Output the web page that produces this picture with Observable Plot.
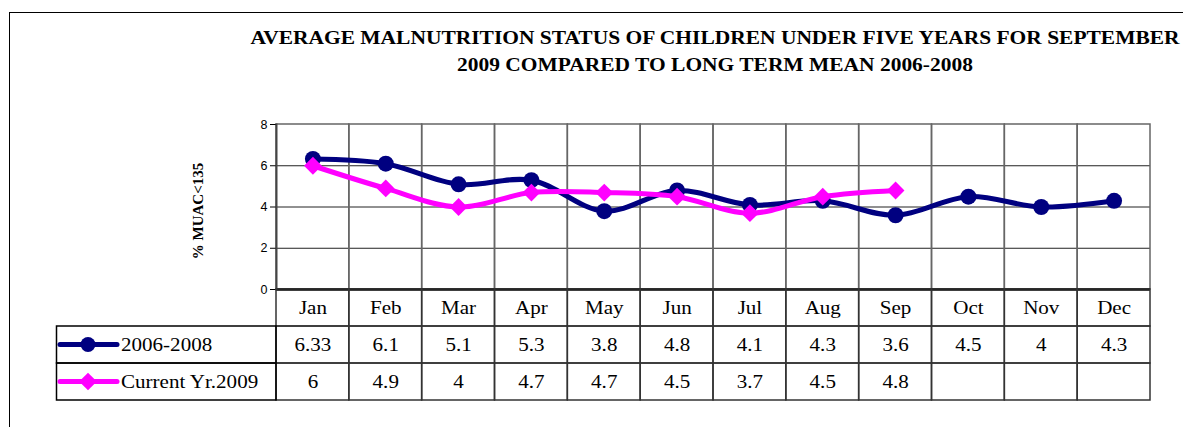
<!DOCTYPE html>
<html><head><meta charset="utf-8">
<script src="https://cdn.jsdelivr.net/npm/d3@7"></script>
<script src="https://cdn.jsdelivr.net/npm/@observablehq/plot@0.6"></script>
<style>
html,body{margin:0;padding:0;background:#fff;}
#wrap{position:relative;width:1183px;height:427px;overflow:hidden;background:#fff;}
#wrap svg{position:absolute;left:0;top:0;}
#border{position:absolute;left:9px;top:12px;width:1400px;height:600px;border-left:1.5px solid #000;border-top:1.5px solid #000;}
.title{position:absolute;left:0;width:1430px;text-align:center;font:bold 18.5px "Liberation Serif","Times New Roman",serif;line-height:27px;transform:scaleX(1.16);transform-origin:715px 0;white-space:nowrap;color:#000;}
</style></head><body>
<div id="wrap">
<div id="border"></div>
<div class="title" style="top:25px">AVERAGE MALNUTRITION STATUS OF CHILDREN UNDER FIVE YEARS FOR SEPTEMBER</div>
<div class="title" style="top:52px">2009 COMPARED TO LONG TERM MEAN 2006-2008</div>
</div>
<script>
const months = ["Jan","Feb","Mar","Apr","May","Jun","Jul","Aug","Sep","Oct","Nov","Dec"];
const mean0608 = [6.33,6.1,5.1,5.3,3.8,4.8,4.1,4.3,3.6,4.5,4,4.3];
const yr2009 = [6,4.9,4,4.7,4.7,4.5,3.7,4.5,4.8,null,null,null];
const seriesNames = ["2006-2008","Current Yr.2009"];
const seriesColors = ["#000080","#ff00ff"];
const yTicks = [0,2,4,6,8];
const yGrid = [2,4,6];
const yLabel = "% MUAC<135";

const s1 = months.map((m,i)=>({month:m, value:mean0608[i]}));
const s2 = months.map((m,i)=>({month:m, value:yr2009[i]})).filter(d=>d.value!=null);

const wrap = document.getElementById("wrap");

const chart = Plot.plot({
  width:1183, height:300, marginLeft:276, marginRight:33, marginTop:124, marginBottom:11,
  style:{background:"transparent", overflow:"visible"},
  x:{type:"band", domain:months, padding:0, round:false, axis:null},
  y:{domain:[0,8], axis:null},
  marks:[
    Plot.ruleY(yGrid, {stroke:"#222", strokeWidth:1}),
    Plot.cell(months, {x:d=>d, stroke:"#666", strokeWidth:1.5, fill:"none"}),
    Plot.axisY({ticks:yTicks, tickSize:6, tickPadding:3, label:null, fontSize:12.5}),
    Plot.ruleY([0], {stroke:"#000", strokeWidth:2.5}),
    Plot.frame({anchor:"left", stroke:"#444", strokeWidth:2}),
    Plot.text([yLabel], {frameAnchor:"left", textAnchor:"middle", dx:-78, dy:4, rotate:-90, fontWeight:"bold", fontSize:15, fontFamily:"Liberation Serif, serif", fill:"#000"}),
    Plot.line(s1, {x:"month", y:"value", stroke:seriesColors[0], strokeWidth:5, curve:"catmull-rom"}),
    Plot.dot(s1, {x:"month", y:"value", r:8, fill:seriesColors[0]}),
    Plot.line(s2, {x:"month", y:"value", stroke:seriesColors[1], strokeWidth:5, curve:"catmull-rom"}),
    Plot.dot(s2, {x:"month", y:"value", r:8, symbol:"diamond2", fill:seriesColors[1]})
  ]
});
// y tick labels: Arial-like, ~12.5px
const tickStrings = yTicks.map(String);
chart.querySelectorAll("text").forEach(t=>{
  if (tickStrings.includes(t.textContent.trim())) {
    t.style.fontSize = "12.5px";
    t.style.fontFamily = "'Liberation Sans', Arial, sans-serif";
    t.style.fill = "#000";
  }
});
wrap.appendChild(chart);

const tableRows = ["months", ...seriesNames];
const cells = [];
months.forEach((m,i)=>{
  cells.push({month:m, row:"months", label:m});
  cells.push({month:m, row:seriesNames[0], label:String(mean0608[i])});
  cells.push({month:m, row:seriesNames[1], label: yr2009[i]==null ? "" : String(yr2009[i])});
});

const table = Plot.plot({
  width:1183, height:427, marginLeft:276, marginRight:33, marginTop:289, marginBottom:27,
  style:{background:"transparent", overflow:"visible"},
  x:{type:"band", domain:months, padding:0, round:false, axis:null},
  y:{type:"band", domain:tableRows, padding:0, round:false, axis:null},
  marks:[
    Plot.cell(cells, {x:"month", y:"row", stroke:"#333", strokeWidth:1.5, fill:"none"}),
    Plot.text(cells, {x:"month", y:"row", text:"label", fontSize:18, fontFamily:"Liberation Serif, serif", fill:"#000"})
  ]
});
table.querySelectorAll("text").forEach(t=>{
  t.setAttribute("transform", (t.getAttribute("transform")||"") + " scale(1.17,1)");
});
wrap.appendChild(table);

// legend column (left of the data table)
const ys = table.scale("y");
const bw = ys.bandwidth;
const svg = d3.select(table);
const lg = svg.append("g");
const lx0 = 56.5, lx1 = 276;
seriesNames.forEach((name,i)=>{
  const top = ys.apply(name);
  const cy = top + bw/2;
  lg.append("rect").attr("x",lx0).attr("y",top).attr("width",lx1-lx0).attr("height",bw)
    .attr("fill","none").attr("stroke","#000").attr("stroke-width",1.5);
  lg.append("line").attr("x1",60).attr("x2",117).attr("y1",cy).attr("y2",cy)
    .attr("stroke",seriesColors[i]).attr("stroke-width",5).attr("stroke-linecap","round");
  if (i===0) lg.append("circle").attr("cx",88).attr("cy",cy).attr("r",7.5).attr("fill",seriesColors[i]);
  else lg.append("path").attr("d",d3.symbol(d3.symbolDiamond2, 200)()).attr("transform",`translate(88,${cy})`).attr("fill",seriesColors[i]);
  lg.append("text").attr("x",0).attr("y",0).attr("dy","0.35em").attr("text-anchor","start")
    .attr("transform",`translate(121,${cy}) scale(1.17,1)`)
    .attr("font-family","Liberation Serif, serif").attr("font-size",18).attr("fill","#000").text(name);
});
</script>
</body></html>
